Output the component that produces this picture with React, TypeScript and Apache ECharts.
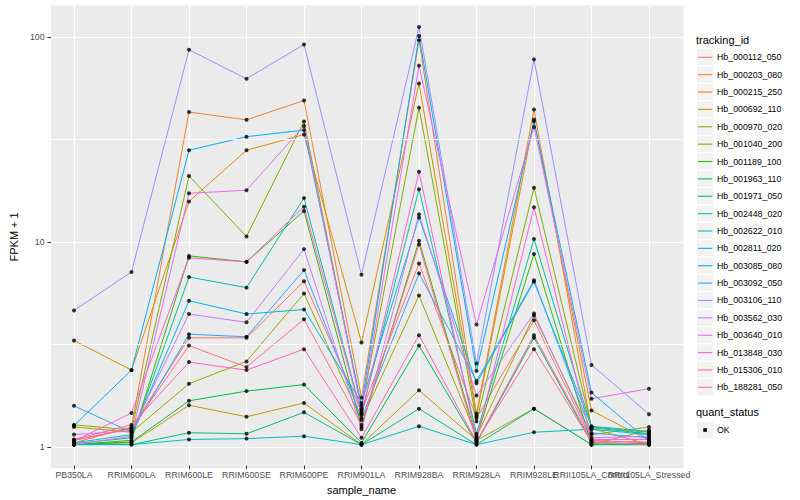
import React, { useEffect, useRef } from "react";
import * as echarts from "echarts";

const categories = [
  "PB350LA", "RRIM600LA", "RRIM600LE", "RRIM600SE", "RRIM600PE", "RRIM901LA",
  "RRIM928BA", "RRIM928LA", "RRIM928LE", "RRII105LA_Control", "RRII105LA_Stressed",
];

const trackingIds = [
  "Hb_000112_050", "Hb_000203_080", "Hb_000215_250", "Hb_000692_110", "Hb_000970_020",
  "Hb_001040_200", "Hb_001189_100", "Hb_001963_110", "Hb_001971_050", "Hb_002448_020",
  "Hb_002622_010", "Hb_002811_020", "Hb_003085_080", "Hb_003092_050", "Hb_003106_110",
  "Hb_003562_030", "Hb_003640_010", "Hb_013848_030", "Hb_015306_010", "Hb_188281_050",
];

const seriesColors = [
  "#F8766D", "#EA8331", "#D89000", "#C09B00", "#A3A500", "#7CAE00", "#39B600", "#00BB4E",
  "#00BF7D", "#00C1A3", "#00BFC4", "#00BAE0", "#00B0F6", "#35A2FF", "#9590FF", "#C77CFF",
  "#E76BF3", "#FA62DB", "#FF62BC", "#FF6C91",
];

// FPKM + 1 values, one array per tracking_id, in category order
const hb000112_050 = [1.05, 1.2, 3.34, 3.34, 6.33, 1.45, 7.74, 1.35, 4.07, 1.05, 1.02];
const hb000203_080 = [1.02, 1.22, 42.8, 39.2, 48.8, 1.7, 96.4, 1.42, 44.1, 1.2, 1.0];
const hb000215_250 = [3.24, 2.32, 15.6, 27.8, 33.2, 3.17, 59.1, 1.38, 39.3, 1.47, 1.05];
const hb000692_110 = [1.0, 1.02, 1.56, 1.37, 1.6, 1.0, 1.85, 1.05, 1.5, 1.0, 1.18];
const hb000970_020 = [1.22, 1.15, 1.99, 2.56, 5.51, 1.32, 5.39, 1.1, 4.3, 1.12, 1.22];
const hb001040_200 = [1.25, 1.18, 20.8, 10.5, 38.5, 1.5, 45.0, 1.3, 18.2, 1.22, 1.15];
const hb001189_100 = [1.0, 1.05, 8.43, 7.88, 14.0, 1.22, 10.0, 1.08, 8.62, 1.0, 1.0];
const hb001963_110 = [1.0, 1.03, 1.64, 1.83, 1.97, 1.02, 3.06, 1.02, 3.34, 1.02, 1.01];
const hb001971_050 = [1.0, 1.0, 1.144, 1.13, 1.44, 1.0, 1.5, 1.0, 1.5, 1.0, 1.0];
const hb002448_020 = [1.01, 1.08, 6.64, 5.89, 16.2, 1.42, 17.9, 1.13, 10.2, 1.21, 1.13];
const hb002622_010 = [1.0, 1.0, 1.06, 1.07, 1.1, 1.0, 1.23, 1.0, 1.15, 1.19, 1.12];
const hb002811_020 = [1.02, 1.12, 5.08, 4.37, 4.6, 1.6, 13.0, 2.0, 6.3, 1.23, 1.16];
const hb003085_080 = [1.24, 2.32, 27.8, 32.4, 34.9, 1.55, 101, 2.3, 38.6, 1.8, 1.04];
const hb003092_050 = [1.55, 1.15, 3.48, 3.38, 7.18, 1.35, 6.92, 2.05, 6.4, 1.14, 1.08];
const hb003106_110 = [4.55, 7.03, 86.5, 62.3, 91.8, 6.82, 111.9, 2.5, 77.6, 2.46, 1.41];
const hb003562_030 = [1.12, 1.17, 4.37, 3.98, 9.1, 1.19, 13.5, 1.74, 4.4, 1.08, 1.1];
const hb003640_010 = [1.0, 1.1, 17.1, 17.7, 36.6, 1.48, 72.3, 3.88, 36.1, 1.68, 1.88];
const hb013848_030 = [1.04, 1.43, 8.25, 7.88, 14.7, 1.4, 21.8, 1.06, 14.6, 1.06, 1.06];
const hb015306_010 = [1.06, 1.25, 2.54, 2.32, 2.94, 1.08, 3.44, 1.03, 3.44, 1.04, 1.03];
const hb188281_050 = [1.05, 1.2, 3.06, 2.4, 4.12, 1.25, 9.6, 1.04, 2.94, 1.03, 1.0];

const seriesValues = [
  hb000112_050, hb000203_080, hb000215_250, hb000692_110, hb000970_020,
  hb001040_200, hb001189_100, hb001963_110, hb001971_050, hb002448_020,
  hb002622_010, hb002811_020, hb003085_080, hb003092_050, hb003106_110,
  hb003562_030, hb003640_010, hb013848_030, hb015306_010, hb188281_050,
];

const yTicks = [1, 10, 100];
const yMinorBreaks = [3.1623, 31.623];
const quantStatus = ["OK"];

const FONT = "'Liberation Sans', Arial, Helvetica, sans-serif";

function buildOption() {
  const lineSeries = trackingIds.map((name, k) => ({
    name,
    type: "line",
    xAxisIndex: 1,
    yAxisIndex: 1,
    data: seriesValues[k],
    showSymbol: false,
    symbol: "none",
    lineStyle: { color: seriesColors[k], width: 1 },
    itemStyle: { color: seriesColors[k] },
    z: 3,
    silent: true,
  }));

  const points: any[] = [];
  seriesValues.forEach((vals) => vals.forEach((v, i) => points.push([i, v])));

  const legendEls: any[] = [];
  const rowY0 = 57.3;
  const rowH = 17.37;
  legendEls.push({
    type: "text", x: 696, y: 39.5,
    style: { text: "tracking_id", fontSize: 11, fontFamily: FONT, fill: "#000000", verticalAlign: "middle" },
  });
  trackingIds.forEach((name, k) => {
    const cy = rowY0 + rowH * k;
    legendEls.push({
      type: "rect", shape: { x: 696.5, y: cy - rowH / 2, width: 17.3, height: rowH },
      style: { fill: "#F2F2F2", stroke: "#FFFFFF", lineWidth: 1 },
    });
    legendEls.push({
      type: "line", shape: { x1: 698, y1: cy, x2: 712.3, y2: cy },
      style: { stroke: seriesColors[k], lineWidth: 1.1 },
    });
    legendEls.push({
      type: "text", x: 717, y: cy,
      style: { text: name, fontSize: 8.8, fontFamily: FONT, fill: "#000000", verticalAlign: "middle", align: "left" },
    });
  });
  legendEls.push({
    type: "text", x: 696, y: 412.3,
    style: { text: "quant_status", fontSize: 11, fontFamily: FONT, fill: "#000000", verticalAlign: "middle" },
  });
  quantStatus.forEach((s, k) => {
    const cy = 430 + rowH * k;
    legendEls.push({
      type: "rect", shape: { x: 696.5, y: cy - rowH / 2, width: 17.3, height: rowH },
      style: { fill: "#F2F2F2", stroke: "#FFFFFF", lineWidth: 1 },
    });
    legendEls.push({
      type: "rect", shape: { x: 703.3, y: cy - 1.8, width: 3.6, height: 3.6 },
      style: { fill: "#000000" },
    });
    legendEls.push({
      type: "text", x: 717, y: cy,
      style: { text: s, fontSize: 8.8, fontFamily: FONT, fill: "#000000", verticalAlign: "middle", align: "left" },
    });
  });

  const yMin = 0.789;
  const yMax = 142.6;

  return {
    animation: false,
    backgroundColor: "#FFFFFF",
    textStyle: { fontFamily: FONT },
    grid: [
      { left: 40, top: 5.5, width: 643.5, height: 462.8, show: true, backgroundColor: "#EBEBEB", borderWidth: 0 },
      { left: 74, top: 5.5, width: 575, height: 462.8, show: false },
    ],
    xAxis: [
      { type: "value", gridIndex: 0, min: 0, max: 1, show: false },
      {
        type: "category",
        gridIndex: 1,
        data: categories,
        boundaryGap: false,
        axisLine: { show: false },
        axisTick: { show: true, length: 3.7, lineStyle: { color: "#333333", width: 1 } },
        axisLabel: { show: true, interval: 0, color: "#4D4D4D", fontSize: 8.8, margin: 4.5, fontFamily: FONT },
        splitLine: { show: true, lineStyle: { color: "#FFFFFF", width: 1.2 } },
        name: "sample_name",
        nameLocation: "middle",
        nameGap: 14,
        nameTextStyle: { color: "#000000", fontSize: 11, fontFamily: FONT },
      },
    ],
    yAxis: [
      {
        type: "log",
        logBase: 10,
        gridIndex: 0,
        min: yMin,
        max: yMax,
        axisLine: { show: false },
        axisTick: { show: true, length: 3.7, lineStyle: { color: "#333333", width: 1 }, customValues: yTicks },
        axisLabel: { show: true, color: "#4D4D4D", fontSize: 8.8, margin: 6.5, customValues: yTicks, fontFamily: FONT },
        splitLine: { show: true, lineStyle: { color: "#FFFFFF", width: 1.2 } },
        minorTick: { show: false },
        minorSplitLine: { show: false },
        name: "FPKM + 1",
        nameLocation: "middle",
        nameGap: 21,
        nameTextStyle: { color: "#000000", fontSize: 11, fontFamily: FONT },
      },
      { type: "log", logBase: 10, gridIndex: 1, min: yMin, max: yMax, show: false },
    ],
    series: [
      {
        type: "line",
        xAxisIndex: 0,
        yAxisIndex: 0,
        data: [[0, 1]],
        showSymbol: false,
        symbol: "none",
        lineStyle: { opacity: 0 },
        silent: true,
        z: 1,
        markLine: {
          silent: true,
          symbol: "none",
          label: { show: false },
          lineStyle: { color: "#FFFFFF", width: 0.8, type: "solid", opacity: 1 },
          emphasis: { disabled: true },
          data: yMinorBreaks.map((v) => ({ yAxis: v })),
        },
      },
      ...lineSeries,
      {
        type: "scatter",
        name: "quant_status",
        xAxisIndex: 1,
        yAxisIndex: 1,
        data: points,
        symbol: "circle",
        symbolSize: 4,
        itemStyle: { color: "#000000" },
        z: 5,
        silent: true,
      },
    ],
    graphic: { elements: legendEls },
  };
}

export default function App() {
  const ref = useRef<HTMLDivElement>(null);
  useEffect(() => {
    document.body.style.margin = "0";
    const chart = echarts.init(ref.current as HTMLDivElement, null, { renderer: "svg" });
    chart.setOption(buildOption() as any);
    return () => chart.dispose();
  }, []);
  return <div ref={ref} style={{ width: 800, height: 500 }} />;
}
